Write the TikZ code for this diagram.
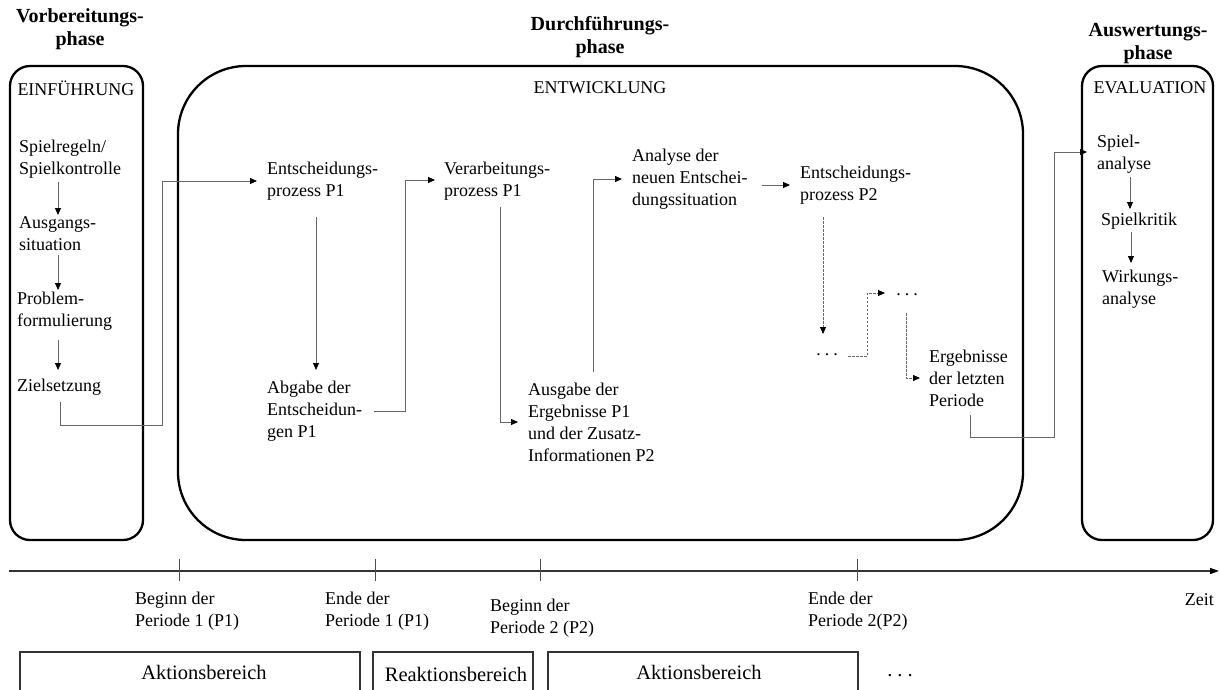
\documentclass[tikz,border=0pt]{standalone}
\usepackage{fontspec}
\setmainfont{Liberation Serif}
\usetikzlibrary{arrows.meta}
\newcommand{\spaceddots}[1]{.\kern#1.\kern#1.}
\begin{document}
\begin{tikzpicture}[x=1pt,y=-1pt,
  txt/.style={font=\fontsize{18}{22}\selectfont, align=left, inner sep=0pt, anchor=west},
  lbl/.style={font=\fontsize{18}{22}\selectfont, inner sep=0pt},
  big/.style={font=\fontsize{20.5}{24}\selectfont, inner sep=0pt},
  head/.style={font=\fontsize{20}{23}\selectfont\bfseries, align=center, inner sep=0pt},
  phasebox/.style={draw, line width=2.3pt},
  flow/.style={draw=black!60, line width=0.9pt, -{Triangle[length=7pt,width=6pt,color=black]}},
  dflow/.style={flow, dash pattern=on 2.5pt off 1.5pt},
  axis/.style={draw=black!80, line width=1.5pt, -{Triangle[length=9pt,width=6pt,color=black]}},
  tick/.style={draw=black!70, line width=0.9pt},
  areabox/.style={draw=black!80, line width=1.2pt}
]
\useasboundingbox (0,0) rectangle (1220,689);
\clip (0,0) rectangle (1220,689);

% phase headings
\node[head] (hv) at (80,29) {Vorbereitungs-\\phase};
\node[head] (hd) at (600,37) {Durchführungs-\\phase};
\node[head] (ha) at (1148,44) {Auswertungs-\\phase};

% phase frames
\draw[phasebox, rounded corners=20pt] (10,66) rectangle (143,540);
\draw[phasebox, rounded corners=68pt] (178,66) rectangle (1023,540);
\draw[phasebox, rounded corners=20pt] (1082,66) rectangle (1213,540);

\node[lbl] (einf) at (76,88) {EINFÜHRUNG};
\node[lbl] (entw) at (600,88) {ENTWICKLUNG};
\node[lbl] (eval) at (1150,88) {EVALUATION};

% preparation steps
\node[txt] (spiel) at (19,159) {Spielregeln/\\Spielkontrolle};
\node[txt] (ausg) at (19,234) {Ausgangs-\\situation};
\node[txt] (prob) at (17,311) {Problem-\\formulierung};
\node[txt] (ziel) at (17,387) {Zielsetzung};

\draw[flow, shorten <=4pt] (58,0 |- spiel.south) -- (58,215);
\draw[flow, shorten <=4pt] (58,0 |- ausg.south) -- (58,290);
\draw[flow] (58,340) -- (58,370);

% period 1 and 2
\node[txt] (ep1) at (267,181) {Entscheidungs-\\prozess P1};
\node[txt] (abg) at (267,411) {Abgabe der\\Entscheidun-\\gen P1};
\node[txt] (vp1) at (444,181) {Verarbeitungs-\\prozess P1};
\node[txt] (ausgabe) at (528,422) {Ausgabe der\\Ergebnisse P1\\und der Zusatz-\\Informationen P2};
\node[txt] (ana) at (632,179) {Analyse der\\neuen Entschei-\\dungssituation};
\node[txt] (ep2) at (800,185) {Entscheidungs-\\prozess P2};
\node[lbl] (dots1) at (827,355) {\spaceddots{4pt}};
\node[lbl] (dots2) at (907,295) {\spaceddots{4pt}};
\node[txt] (erg) at (929,378) {Ergebnisse\\der letzten\\Periode};

\draw[flow] (60,402) |- (162,425) |- ([xshift=-10pt]ep1.west);
\draw[flow] (316,217) -- (316,370);
\draw[flow] (374,0 |- abg.east) -| (405,180) -- ([xshift=-9pt]vp1.west |- 0,180);
\draw[flow] (500,207) |- ([xshift=-10pt]ausgabe.west);
\draw[flow] (593,372) |- ([xshift=-10pt]ana.west);
\draw[flow] (762,0 |- ep2.west) -- ([xshift=-10pt]ep2.west);
\draw[dflow] (823,217) -- (823,334);
\draw[dflow] (848,356) -| (867,293) -- (885,293);
\draw[dflow] (906,313) |- ([xshift=-9pt]erg.west);
\draw[flow] (970,415) |- (1054,437) |- (1087,152);

% evaluation steps
\node[txt] (sana) at (1097,154) {Spiel-\\analyse};
\node[txt] (krit) at (1101,221) {Spielkritik};
\node[txt] (wirk) at (1102,289) {Wirkungs-\\analyse};

\draw[flow] (1130,177) -- (1130,209);
\draw[flow] (1131,232) -- (1131,263);

% time axis
\coordinate (t0) at (9,571);
\coordinate (t1) at (1219,571);
\draw[axis] (t0) -- (t1);
\foreach \x in {179,375,540,857} \draw[tick] (\x,559) -- (\x,581);

\node[txt] (b1) at (135,611) {Beginn der\\Periode 1 (P1)};
\node[txt] (e1) at (325,611) {Ende der\\Periode 1 (P1)};
\node[txt] (b2) at (490,618) {Beginn der\\Periode 2 (P2)};
\node[txt] (e2) at (808,611) {Ende der\\Periode 2(P2)};
\node[lbl, anchor=east] (zeit) at (1214,600) {Zeit};

% action / reaction areas
\draw[areabox] (20,652) rectangle (360,700);
\draw[areabox] (373,652) rectangle (533,700);
\draw[areabox] (548,652) rectangle (858,700);
\node[big] (a1) at (204,672) {Aktionsbereich};
\node[big] (r1) at (456,674) {Reaktionsbereich};
\node[big] (a2) at (699,672) {Aktionsbereich};
\node[big] (more) at (900,676) {\spaceddots{5pt}};
\end{tikzpicture}
\end{document}
